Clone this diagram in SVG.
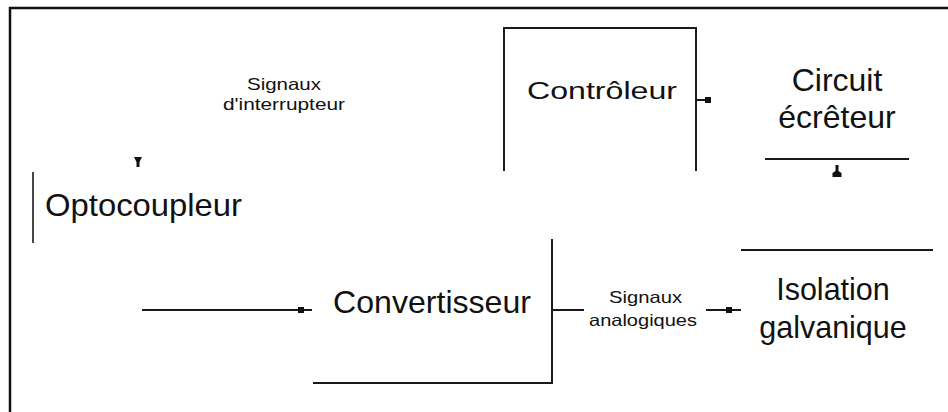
<svg xmlns="http://www.w3.org/2000/svg" xmlns:xlink="http://www.w3.org/1999/xlink" width="948" height="412" viewBox="0 0 948 412">
<style>
.ln{fill:none;stroke:#1a1a1a;stroke-width:2}
.t{font-family:"Liberation Sans",Arial,sans-serif;fill:#111}
.big{font-size:32px}
.sm{font-size:16.5px}
</style>
<defs>
<rect id="sq" x="-3" y="-3" width="6" height="6" fill="#111"/>
<path id="tipDown" d="M-4,0 H4 L1.5,5 V10 H-1.5 V5 Z" fill="#111"/>
<path id="tipUp" d="M-1.5,0 H1.5 V6 L4.5,8 V12 H-4.5 V8 L-1.5,6 Z" fill="#111"/>
</defs>
<rect width="948" height="412" fill="#fff"/>
<g id="frame">
<path d="M10,412 V8 H948" fill="none" stroke="#111" stroke-width="2.5"/>
</g>
<g id="optocoupleur">
<line x1="33" y1="172" x2="33" y2="243" stroke="#333" stroke-width="1.8"/>
<text class="t big" x="45" y="216" textLength="197" lengthAdjust="spacingAndGlyphs">Optocoupleur</text>
</g>
<g id="controleur">
<path class="ln" d="M504,171 V28 H696 V171"/>
<text class="t" x="527" y="99" font-size="23" textLength="150" lengthAdjust="spacingAndGlyphs">Contrôleur</text>
</g>
<g id="circuit-ecreteur">
<text class="t big" x="837" y="91" text-anchor="middle">Circuit</text>
<text class="t big" x="837" y="128" text-anchor="middle">écrêteur</text>
<line class="ln" x1="765" y1="159" x2="909" y2="159"/>
</g>
<g id="convertisseur">
<text class="t big" x="333" y="313" textLength="198" lengthAdjust="spacingAndGlyphs">Convertisseur</text>
<path class="ln" d="M313,383 H552 V239"/>
</g>
<g id="isolation-galvanique">
<line class="ln" x1="741" y1="250" x2="933" y2="250"/>
<text class="t" x="833" y="300" font-size="30.5" text-anchor="middle">Isolation</text>
<text class="t" x="833" y="338" font-size="30.5" text-anchor="middle">galvanique</text>
</g>
<g id="labels">
<text class="t sm" x="247" y="90" textLength="74" lengthAdjust="spacingAndGlyphs">Signaux</text>
<text class="t sm" x="223" y="110" textLength="122" lengthAdjust="spacingAndGlyphs">d'interrupteur</text>
<text class="t sm" x="609" y="303" textLength="73" lengthAdjust="spacingAndGlyphs">Signaux</text>
<text class="t sm" x="589" y="326" textLength="108" lengthAdjust="spacingAndGlyphs">analogiques</text>
</g>
<g id="connectors">
<path class="ln" d="M696,100 H708"/>
<use xlink:href="#sq" x="708" y="100"/>
<use xlink:href="#tipDown" x="138" y="157"/>
<use xlink:href="#tipUp" x="837" y="165"/>
<path class="ln" d="M142,310 H312"/>
<use xlink:href="#sq" x="301" y="310"/>
<path class="ln" d="M552,310 H584"/>
<path class="ln" d="M706,310 H741"/>
<use xlink:href="#sq" x="729" y="310"/>
</g>
</svg>
